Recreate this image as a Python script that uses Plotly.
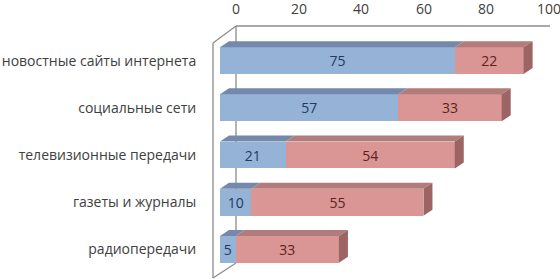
import plotly.graph_objects as go

categories = ["новостные сайты интернета", "социальные сети", "телевизионные передачи",
              "газеты и журналы", "радиопередачи"]
series_a = [75, 57, 21, 10, 5]
series_b = [22, 33, 54, 55, 33]
x_ticks = [0, 20, 40, 60, 80, 100]

W, H = 560, 279
PW, PH = 313, 236
L, T = 220, 37
R, B = W - L - PW, H - T - PH
BAR_W = 0.57
DX = 9 * 100 / PW       # 3D depth in data units (x)
DY = 6 * 5 / PH         # 3D depth in data units (y)

ypos = list(range(len(categories) - 1, -1, -1))

blue_front, blue_top = "#95B3D7", "#7489AB"
red_front, red_top, red_side = "#D99694", "#B27C7A", "#9C6462"

fig = go.Figure()
fig.add_trace(go.Bar(y=ypos, x=series_a, orientation="h", width=BAR_W,
                     marker=dict(color=blue_front, line=dict(width=0)),
                     text=series_a, textposition="inside", insidetextanchor="middle",
                     textfont=dict(color="#1F3A5F", size=14, family="Open Sans"),
                     constraintext="none", cliponaxis=False, hoverinfo="skip"))
fig.add_trace(go.Bar(y=ypos, x=series_b, orientation="h", width=BAR_W,
                     marker=dict(color=red_front, line=dict(width=0)),
                     text=series_b, textposition="inside", insidetextanchor="middle",
                     textfont=dict(color="#5C2321", size=14, family="Open Sans"),
                     constraintext="none", cliponaxis=False, hoverinfo="skip"))

shapes = []
def px2paper(px, py):
    return (px - L) / PW, (H - B - py) / PH

frame = [((236, 26), (550, 26)), ((236, 26), (236, 263)), ((213, 43), (213, 278)),
         ((236, 26), (213, 43)), ((213, 278), (236, 263))]
for (p0, p1) in frame:
    x0, y0 = px2paper(*p0)
    x1, y1 = px2paper(*p1)
    shapes.append(dict(type="line", xref="paper", yref="paper", x0=x0, y0=y0, x1=x1, y1=y1,
                       line=dict(color="#8C8C8C", width=1.3), layer="below"))

for y, a, b in zip(ypos, series_a, series_b):
    top = y + BAR_W / 2
    bot = y - BAR_W / 2
    segs = [(0, a, blue_top), (a, a + b, red_top)]
    for x0, x1, col in segs:
        path = (f"M {x0},{top} L {x0 + DX},{top + DY} L {x1 + DX},{top + DY} "
                f"L {x1},{top} Z")
        shapes.append(dict(type="path", xref="x", yref="y", path=path,
                           fillcolor=col, line=dict(width=0), layer="above"))
    xe = a + b
    path = (f"M {xe},{top} L {xe + DX},{top + DY} L {xe + DX},{bot + DY} "
            f"L {xe},{bot} Z")
    shapes.append(dict(type="path", xref="x", yref="y", path=path,
                       fillcolor=red_side, line=dict(width=0), layer="above"))

annotations = [dict(x=v, xref="x", y=1, yref="paper", yshift=29, xshift=16,
                    text=str(v), showarrow=False, yanchor="middle", xanchor="center",
                    font=dict(size=14, color="#404040", family="Open Sans"))
               for v in x_ticks]

fig.update_layout(
    width=W, height=H, barmode="stack", showlegend=False,
    margin=dict(l=L, r=R, t=T, b=B, autoexpand=False),
    paper_bgcolor="white", plot_bgcolor="white",
    font=dict(family="Open Sans", color="#404040", size=13),
    xaxis=dict(range=[0, 100], showgrid=False, zeroline=False, showticklabels=False,
               showline=False, fixedrange=True, automargin=False),
    yaxis=dict(range=[-0.5, len(categories) - 0.5], tickvals=ypos, ticktext=categories,
               showgrid=False, zeroline=False, showline=False, ticks="outside",
               ticklen=20, tickcolor="rgba(0,0,0,0)", automargin=False,
               tickfont=dict(size=14, color="#404040", family="Open Sans")),
    shapes=shapes, annotations=annotations,
)

fig.write_html("out.html", config={"displayModeBar": False},
               post_script="document.body.style.margin='0';document.body.style.overflow='hidden';")
